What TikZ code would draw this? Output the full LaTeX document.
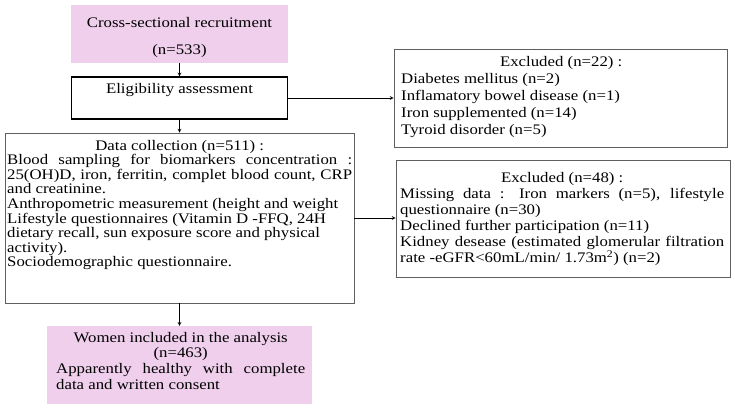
\documentclass[tikz,border=0pt]{standalone}
\usepackage{fontspec}
\setmainfont{Liberation Serif}[FakeStretch=1.15]
\usepackage{tikz}
\usetikzlibrary{arrows}
\definecolor{boxpink}{RGB}{239,207,236}
\definecolor{boxgray}{RGB}{95,95,95}

\begin{document}
\begin{tikzpicture}[x=1pt, y=-1pt,
    pinkbox/.style={fill=boxpink, inner sep=0pt},
    greybox/.style={draw=boxgray, line width=0.8pt, inner sep=0pt},
    txt/.style={inner sep=0pt, font=\fontsize{14.6}{15}\selectfont},
    link/.style={->, >=stealth, line width=0.7pt}]
      \useasboundingbox (0,0) rectangle (735,410);
      % frames
      \node[pinkbox, minimum width=217pt, minimum height=58pt] (recruit) at (179.5,34) {};
      \node[draw, line width=1.2pt, inner sep=0pt, minimum width=216pt, minimum height=42pt] (elig) at (179.5,98) {};
      \node[greybox, minimum width=333pt, minimum height=98pt] (excl1) at (560.5,98) {};
      \node[greybox, minimum width=349pt, minimum height=170pt] (data) at (179.5,218) {};
      \node[greybox, minimum width=334pt, minimum height=117pt] (excl2) at (563,218.5) {};
      \node[pinkbox, minimum width=265pt, minimum height=78pt] (women) at (179.5,365) {};
      % texts
      \node[txt, anchor=base] (recruittxt) at (179.5,27) {Cross-sectional recruitment};
      \node[txt, anchor=base] (recruitn) at (179.5,54) {(n=533)};
      \node[txt, anchor=base] (eligtxt) at (179.5,93) {Eligibility assessment};
      \node[txt, anchor=base west, text width=320pt, align=justify,
            font=\fontsize{14.6}{17}\selectfont] (excl1txt) at (401,66.5)
        {\hspace*{\fill}Excluded (n=22) :\hspace*{\fill}\\
         Diabetes mellitus (n=2)\\
         Inflamatory bowel disease (n=1)\\
         Iron supplemented (n=14)\\
         Tyroid disorder (n=5)};
      \node[txt, anchor=base west, text width=345pt, align=justify,
            font=\fontsize{14.6}{14.6}\selectfont] (datatxt) at (7,150)
        {\hspace*{\fill}Data collection (n=511) :\hspace*{\fill}\\
         Blood sampling for biomarkers concentration :\linebreak
         25(OH)D, iron, ferritin, complet blood count, CRP\linebreak
         and creatinine.\\
         Anthropometric measurement (height and weight\\
         Lifestyle questionnaires (Vitamin D -FFQ, 24H\\
         dietary recall, sun exposure score and physical\\
         activity).\\
         Sociodemographic questionnaire.};
      \node[txt, anchor=base west, text width=324pt, align=justify,
            font=\fontsize{14.6}{16}\selectfont] (excl2txt) at (400,182.5)
        {\hspace*{\fill}Excluded (n=48) :\hspace*{\fill}\\
         Missing data : Iron markers (n=5), lifestyle\linebreak
         questionnaire (n=30)\\
         Declined further participation (n=11)\\
         Kidney desease (estimated glomerular filtration\linebreak
         rate -eGFR<60mL/min/ 1.73m\smash{\textsuperscript{2}}) (n=2)};
      \node[txt, anchor=base west, text width=249pt, align=justify,
            font=\fontsize{14.6}{15.8}\selectfont] (womentxt) at (56,342)
        {\hspace*{\fill}Women included in the analysis\hspace*{\fill}\\
         \hspace*{\fill}(n=463)\hspace*{\fill}\\
         Apparently healthy with complete\linebreak
         data and written consent};
      % connectors
      \draw[link] (recruit.south) -- (elig.north);
      \draw[link] (elig.east) -- (excl1.west);
      \draw[link] (elig.south) -- (data.north);
      \draw[link] (data.east) -- (data.east -| excl2.west);
      \draw[link] (data.south) -- (women.north);
\end{tikzpicture}
\end{document}
